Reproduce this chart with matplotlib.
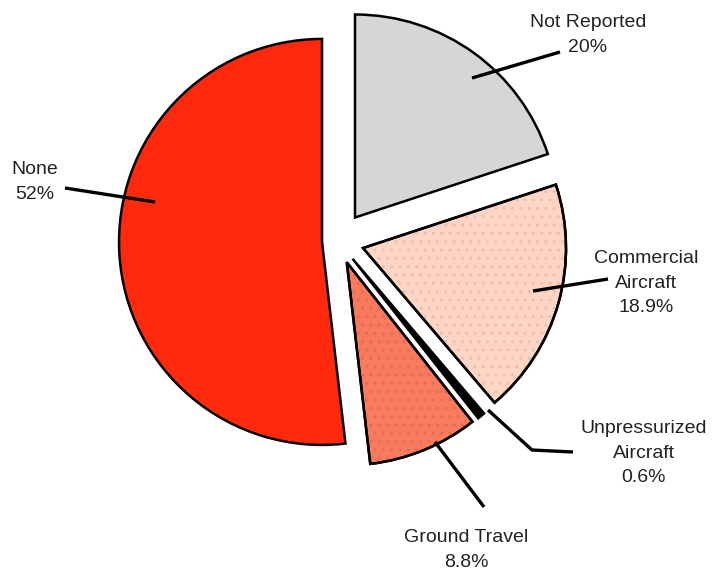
import matplotlib
matplotlib.use("Agg")
import matplotlib.pyplot as plt
from matplotlib.patches import Wedge

# ---- data ----
categories = ["Not Reported", "Commercial\nAircraft", "Unpressurized\nAircraft", "Ground Travel", "None"]
values = [20.0, 18.9, 0.6, 8.8, 52.0]
value_labels = ["20%", "18.9%", "0.6%", "8.8%", "52%"]

# ---- style / layout ----
colors = ["#d6d6d6", "#ffd6c6", "#000000", "#fa7a5e", "#ff2a0e"]
hatch_colors = [None, "#e6c0b0", None, "#e06e56", None]
explode = [29, 26, 23, 23, 16]  # in pixel units (data units)
W, H = 714, 571
plt.rcParams['font.family'] = ['Liberation Sans', 'DejaVu Sans']

fig = plt.figure(figsize=(W / 100, H / 100), dpi=100)
ax = fig.add_axes([0, 0, 1, 1])

def Y(y):
    return H - y

wedges, _ = ax.pie(values, explode=explode, startangle=90, counterclock=False,
                   center=(338, Y(241)), radius=203, colors=colors,
                   wedgeprops=dict(edgecolor="black", linewidth=1.8))
for w, hc in zip(wedges, hatch_colors):
    if hc is None:
        continue
    ov = Wedge(w.center, w.r, w.theta1, w.theta2, facecolor="none",
               edgecolor=hc, linewidth=0, hatch="..")
    ov.set_zorder(w.get_zorder() + 0.1)
    ax.add_patch(ov)
    ol = Wedge(w.center, w.r, w.theta1, w.theta2, facecolor="none",
               edgecolor="black", linewidth=1.8)
    ol.set_zorder(w.get_zorder() + 0.2)
    ax.add_patch(ol)

layout = [
    dict(tx=588, ty=35, pts=[(472, 78), (560, 52)]),
    dict(tx=646, ty=283, pts=[(533, 291), (608, 279)]),
    dict(tx=644, ty=453, pts=[(488, 410), (532, 450), (573, 452)]),
    dict(tx=466, ty=550, pts=[(435, 442), (484, 507)]),
    dict(tx=35, ty=182, pts=[(155, 202), (65, 188)]),
]

for cat, lab, lay in zip(categories, value_labels, layout):
    xs = [p[0] for p in lay["pts"]]
    ys = [Y(p[1]) for p in lay["pts"]]
    ax.plot(xs, ys, color="black", linewidth=2.4, solid_capstyle="butt", zorder=5)
    ax.text(lay["tx"], Y(lay["ty"]), cat + "\n" + lab, ha="center", va="center",
            fontsize=14, color="#222222", linespacing=1.6, zorder=6)

ax.set_xlim(0, W)
ax.set_ylim(0, H)
ax.set_aspect("equal")
ax.axis("off")
fig.savefig("out.png", dpi=100, facecolor="white")
